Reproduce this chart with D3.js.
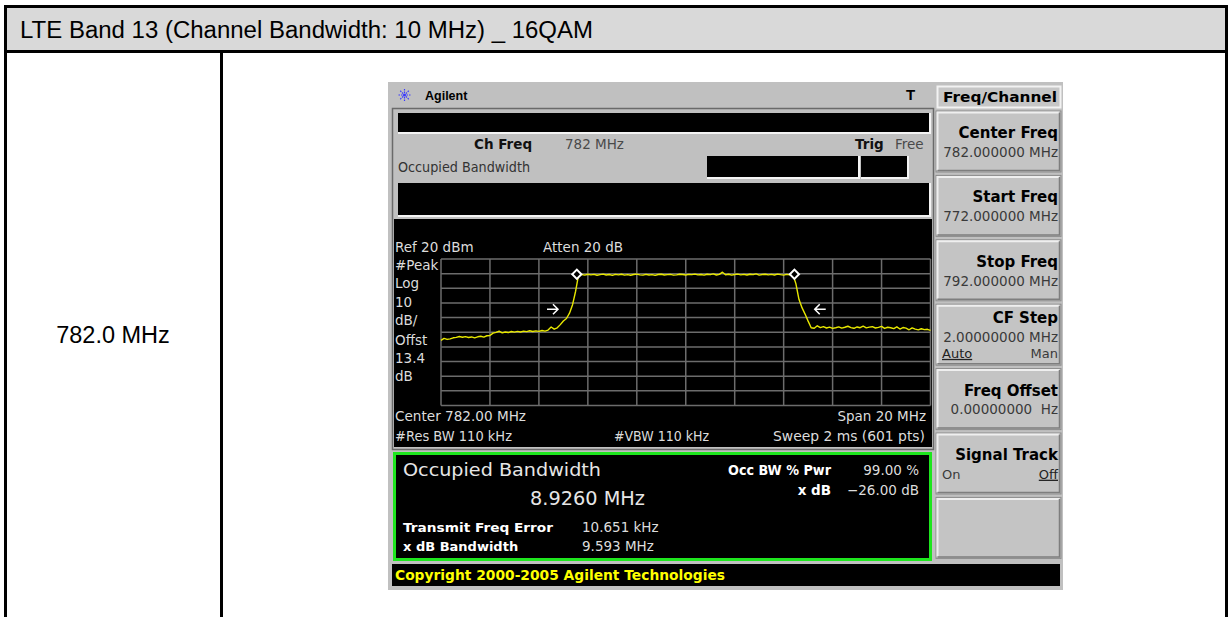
<!DOCTYPE html>
<html>
<head>
<meta charset="utf-8">
<title>LTE Band 13 occupied bandwidth</title>
<script src="https://d3js.org/d3.v7.min.js"></script>
<style>
  body { margin: 0; background: #fff; }
  text { white-space: pre; }
</style>
</head>
<body>
<script>
// ---- data ----
var sweepStart = 772, sweepStep = 0.125;   // MHz, 161 shown points
var traceLevels = [
  -35.6, -34.2, -34.9, -34.5, -33.8, -33.5, -32.9, -33.4, -33.0, -33.6,
  -33.2, -33.8, -33.1, -32.7, -33.3, -32.4, -32.2, -30.6, -30.1, -29.3,
  -30.4, -29.8, -30.2, -29.5, -29.9, -29.4, -29.8, -29.2, -29.6, -29.0,
  -29.5, -29.1, -29.4, -28.8, -29.2, -28.5, -26.4, -27.9, -27.0, -24.8,
  -22.3, -20.6, -17.0, -11.2, -2.0, 9.5,
  9.4, 9.0, 9.6, 9.2, 9.5, 8.9, 9.3, 9.7, 9.1, 9.4,
  8.8, 9.5, 9.2, 9.6, 9.0, 9.3, 8.9, 9.4, 9.7, 9.2,
  9.0, 9.5, 9.1, 9.3, 8.8, 9.4, 9.6, 9.1, 9.3, 9.5,
  9.0, 9.2, 9.6, 9.4, 9.1, 9.5, 9.3, 9.7, 9.2, 9.4,
  9.0, 9.6, 9.3, 9.8, 9.1, 9.5, 11.0, 9.2, 9.6, 9.0,
  9.4, 9.7, 9.2, 9.5, 9.1, 9.6, 9.3, 9.8, 9.0, 9.4,
  9.6, 9.2, 9.5, 9.1, 9.7, 9.3, 9.0, 9.5, 9.2, 9.6,
  3.2, -7.5, -13.2, -17.6, -22.4, -26.9, -27.3,
  -25.6, -26.8, -26.2, -27.1, -26.5, -27.4, -26.9, -26.3, -27.2, -26.6,
  -25.9, -26.8, -27.3, -26.4, -26.9, -25.8, -27.0, -26.5, -26.2, -27.1,
  -26.7, -26.0, -27.4, -26.6, -26.9, -27.5, -26.3, -27.8, -26.8, -27.2,
  -28.3, -27.0, -27.9, -28.4, -27.6, -28.2, -28.0, -28.7
];
var freqTicks = [772, 774, 776, 778, 780, 782, 784, 786, 788, 790, 792];
var levelTicks = [20, 10, 0, -10, -20, -30, -40, -50, -60, -70, -80];
var markerFreqs = [777.55, 786.44];
var markerLevel = 9.6;
var arrowFreqs = [776.78, 787.27];
var arrowDirs = [1, -1];
var arrowLevel = -14.3;

var scaleInfo = ["#Peak", "Log", "10", "dB/", "Offst", "13.4", "dB"];
var softKeyTitles = ["Center Freq", "Start Freq", "Stop Freq", "CF Step", "Freq Offset", "Signal Track", ""];
var softKeyValues = ["782.000000 MHz", "772.000000 MHz", "792.000000 MHz", "2.00000000 MHz", "0.00000000  Hz", "", ""];

var svg = d3.select("body").append("svg")
    .attr("width", 1230)
    .attr("height", 617)
    .style("display", "block");

function label(g, x, y, s, o) {
  o = o || {};
  var t = g.append("text")
      .attr("x", x).attr("y", y).attr("dy", "0.36em")
      .attr("text-anchor", o.anchor || "start")
      .style("font-family", o.font || "'DejaVu Sans', sans-serif")
      .style("font-size", (o.size || 13.5) + "px")
      .style("font-weight", o.bold ? "bold" : "normal")
      .attr("fill", o.color || "#dcdcdc")
      .text(s);
  if (o.len) t.attr("textLength", o.len).attr("lengthAdjust", "spacingAndGlyphs");
  if (o.underline) t.style("text-decoration", "underline");
  return t;
}

// ---- surrounding table ----
svg.append("rect").attr("x", 7).attr("y", 8).attr("width", 1218).attr("height", 42).attr("fill", "#d9d9d9");
[[4, 6.5, 1228, 6.5], [4, 51.5, 1228, 51.5], [5.5, 5, 5.5, 617], [1226.5, 5, 1226.5, 617], [221.5, 51, 221.5, 617]]
  .forEach(function(l) {
    svg.append("line").attr("x1", l[0]).attr("y1", l[1]).attr("x2", l[2]).attr("y2", l[3])
      .attr("stroke", "#000").attr("stroke-width", 3);
  });
label(svg, 20, 30, "LTE Band 13 (Channel Bandwidth: 10 MHz) _ 16QAM",
  {font: "'Liberation Sans', Arial, sans-serif", size: 23.5, color: "#000", len: 573});
label(svg, 113, 335, "782.0 MHz", {font: "'Liberation Sans', Arial, sans-serif", size: 23.5, color: "#000", anchor: "middle"});

// ---- analyzer screen ----
var inst = svg.append("g");
inst.append("rect").attr("x", 388).attr("y", 82).attr("width", 675).attr("height", 508).attr("fill", "#c0c0c0");

// title bar with logo
var logo = inst.append("g").attr("transform", "translate(404.5,95)");
d3.range(8).forEach(function(k) {
  var a = k * Math.PI / 4;
  logo.append("line").attr("x1", 2 * Math.cos(a)).attr("y1", 2 * Math.sin(a))
    .attr("x2", 7 * Math.cos(a)).attr("y2", 7 * Math.sin(a))
    .attr("stroke", "#3b3bff").attr("stroke-width", 1.2).attr("stroke-dasharray", "1.5,1");
});
logo.append("circle").attr("r", 1.6).attr("fill", "#3b3bff");
label(inst, 425, 95, "Agilent", {font: "'Liberation Sans', Arial, sans-serif", size: 12.5, bold: true, color: "#000"});
label(inst, 906, 95, "T", {font: "'Liberation Sans', Arial, sans-serif", size: 15, bold: true, color: "#000"});

// display frame
inst.append("rect").attr("x", 392.5).attr("y", 108.5).attr("width", 541).attr("height", 341)
  .attr("fill", "none").attr("stroke", "#6a6a6a").attr("stroke-width", 1.5);

function blackBox(x, y, w, h) {
  inst.append("rect").attr("x", x).attr("y", y).attr("width", w).attr("height", h).attr("fill", "#000");
  inst.append("path").attr("d", "M" + x + "," + (y + h + 1) + "H" + (x + w + 1) + "V" + y)
    .attr("fill", "none").attr("stroke", "#f4f4f4").attr("stroke-width", 2);
}
blackBox(398, 113, 531, 19);
label(inst, 474, 144, "Ch Freq", {bold: true, color: "#111"});
label(inst, 565, 144, "782 MHz", {color: "#4a4a4a"});
label(inst, 855, 144, "Trig", {bold: true, color: "#111"});
label(inst, 895, 144, "Free", {color: "#4a4a4a"});
label(inst, 398, 167, "Occupied Bandwidth", {color: "#333", len: 132});
blackBox(707, 156, 151, 21);
blackBox(861, 156, 46, 21);
blackBox(398, 183, 531, 32);

// graph area
inst.append("rect").attr("x", 394).attr("y", 219).attr("width", 538).attr("height", 228).attr("fill", "#000");

var x = d3.scaleLinear().domain([772, 792]).range([441, 930.5]);
var y = d3.scaleLinear().domain([-80, 20]).range([405.5, 259]);

var grid = inst.append("g").attr("stroke", "#6c6c6c").attr("stroke-width", 1.5);
grid.selectAll("line.v").data(freqTicks).join("line").attr("class", "v")
  .attr("x1", function(d) { return x(d); }).attr("x2", function(d) { return x(d); })
  .attr("y1", y(20)).attr("y2", y(-80));
grid.selectAll("line.h").data(levelTicks).join("line").attr("class", "h")
  .attr("y1", function(d) { return y(d); }).attr("y2", function(d) { return y(d); })
  .attr("x1", x(772)).attr("x2", x(792));

var trace = d3.line()
  .x(function(d, i) { return x(sweepStart + i * sweepStep); })
  .y(function(d) { return y(d); });
inst.append("path").datum(traceLevels).attr("d", trace)
  .attr("fill", "none").attr("stroke", "#e8e800").attr("stroke-width", 1.4).attr("stroke-linejoin", "round");

// OBW markers
inst.selectAll("path.mk").data(markerFreqs).join("path").attr("class", "mk")
  .attr("d", d3.symbol(d3.symbolSquare, 42))
  .attr("transform", function(d) { return "translate(" + x(d) + "," + y(markerLevel) + ") rotate(45)"; })
  .attr("fill", "#000").attr("stroke", "#fff").attr("stroke-width", 2);

// x dB arrows
inst.selectAll("path.ar").data(arrowFreqs).join("path").attr("class", "ar")
  .attr("d", function(d, i) {
    var tx = x(d), ty = y(arrowLevel), s = arrowDirs[i];
    return "M" + (tx - s * 11) + "," + ty + "H" + tx +
      "M" + (tx - s * 5) + "," + (ty - 5) + "L" + tx + "," + ty + "L" + (tx - s * 5) + "," + (ty + 5);
  })
  .attr("fill", "none").attr("stroke", "#fff").attr("stroke-width", 1.5);

label(inst, 395, 247, "Ref 20 dBm");
label(inst, 543, 247, "Atten 20 dB");
var infoY = [265, 283.5, 302, 320, 340, 358, 376];
scaleInfo.forEach(function(s, i) { label(inst, 395, infoY[i], s); });
label(inst, 395, 416.5, "Center 782.00 MHz", {len: 131});
label(inst, 926, 416.5, "Span 20 MHz", {anchor: "end"});
label(inst, 395, 436.5, "#Res BW 110 kHz", {len: 117});
label(inst, 614, 436.5, "#VBW 110 kHz", {len: 95});
label(inst, 925, 436.5, "Sweep 2 ms (601 pts)", {anchor: "end", len: 152});

// result panel
inst.append("rect").attr("x", 394.5).attr("y", 453.5).attr("width", 536).attr("height", 106)
  .attr("fill", "#000").attr("stroke", "#1ee61e").attr("stroke-width", 3);
label(inst, 403, 469.5, "Occupied Bandwidth", {size: 18.5, color: "#e6e6e6", len: 198});
label(inst, 530, 497.5, "8.9260 MHz", {size: 19.5, color: "#e6e6e6", len: 115});
label(inst, 831, 470, "Occ BW % Pwr", {bold: true, color: "#fff", anchor: "end", len: 103});
label(inst, 919, 470, "99.00 %", {anchor: "end"});
label(inst, 831, 490.5, "x dB", {bold: true, color: "#fff", anchor: "end"});
label(inst, 919, 490.5, "\u221226.00 dB", {anchor: "end"});
label(inst, 403, 527, "Transmit Freq Error", {bold: true, color: "#fff", size: 13, len: 150});
label(inst, 582, 527, "10.651 kHz");
label(inst, 403, 546, "x dB Bandwidth", {bold: true, color: "#fff", size: 13});
label(inst, 582, 546, "9.593 MHz");

// copyright line
inst.append("rect").attr("x", 392).attr("y", 564).attr("width", 668).attr("height", 22).attr("fill", "#000");
label(inst, 395, 575, "Copyright 2000-2005 Agilent Technologies", {bold: true, color: "#ffff00", size: 13.5, len: 330});

// menu title and soft keys
inst.append("rect").attr("x", 937.5).attr("y", 86.5).attr("width", 123).attr("height", 21)
  .attr("fill", "#c6c6c6").attr("stroke", "#f2f2f2").attr("stroke-width", 2);
label(inst, 1057, 96.5, "Freq/Channel", {bold: true, color: "#000", size: 14, anchor: "end", len: 114});

softKeyTitles.forEach(function(t, i) {
  var top = 111 + i * 64.4, g = inst.append("g");
  g.append("rect").attr("x", 936).attr("y", top).attr("width", 125).attr("height", 61)
    .attr("fill", "#c4c4c4").attr("stroke", "#8c8c8c");
  g.append("path").attr("d", "M937.5," + (top + 59) + "V" + (top + 1.5) + "H1059.5")
    .attr("fill", "none").attr("stroke", "#efefef").attr("stroke-width", 2);
  g.append("path").attr("d", "M937.5," + (top + 59.5) + "H1059.5V" + (top + 1.5))
    .attr("fill", "none").attr("stroke", "#7e7e7e").attr("stroke-width", 1.5);
  var ty = i === 3 ? top + 13 : top + 21.5;
  if (t) label(g, 1058, ty, t, {bold: true, color: "#000", size: 15, anchor: "end"});
  if (softKeyValues[i]) label(g, 1058, ty + 19.5, softKeyValues[i], {color: "#3a3a3a", anchor: "end", size: 13.5});
  if (i === 3) {
    label(g, 942, top + 49, "Auto", {color: "#222", size: 13, underline: true});
    label(g, 1058, top + 49, "Man", {color: "#3a3a3a", size: 13, anchor: "end"});
  }
  if (i === 5) {
    label(g, 942, top + 41, "On", {color: "#3a3a3a", size: 13});
    label(g, 1058, top + 41, "Off", {color: "#222", size: 13, anchor: "end", underline: true});
  }
});
</script>
</body>
</html>
